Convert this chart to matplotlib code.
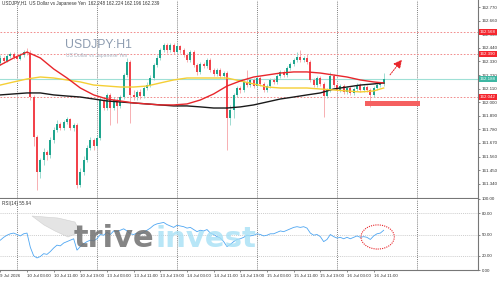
import matplotlib.pyplot as plt
import numpy as np
from matplotlib.patches import Rectangle, Ellipse, Polygon
import matplotlib.transforms as mtransforms

plt.rcParams['font.family'] = ['Liberation Sans', 'DejaVu Sans']

# USDJPY H1 candles, 9 Jul 19:00 .. 16 Jul 14:00
opens = [162.317, 162.358, 162.334, 162.374, 162.390, 162.366, 162.350, 162.382, 162.406, 162.398,
         162.042, 161.719, 161.436, 161.533, 161.597, 161.573, 161.694, 161.775, 161.824, 161.791,
         161.840, 161.864, 161.791, 161.816, 161.331, 161.436, 161.533, 161.630, 161.694, 161.646,
         161.711, 162.018, 161.953, 162.059, 161.953, 162.018, 161.970, 162.042, 162.220, 162.325,
         162.059, 162.042, 162.083, 162.050, 162.115, 162.139, 162.196, 162.301, 162.358, 162.423,
         162.463, 162.423, 162.463, 162.406, 162.455, 162.423, 162.382, 162.342, 162.406, 162.301,
         162.245, 162.309, 162.293, 162.342, 162.261, 162.228, 162.261, 162.212, 162.236, 161.873,
         161.937, 162.059, 162.115, 162.099, 162.164, 162.139, 162.180, 162.131, 162.196, 162.148,
         162.099, 162.131, 162.180, 162.164, 162.212, 162.245, 162.220, 162.277, 162.309, 162.342,
         162.366, 162.342, 162.358, 162.325, 162.180, 162.139, 162.196, 162.148, 162.050, 162.099,
         162.212, 162.139, 162.099, 162.131, 162.083, 162.115, 162.075, 162.107, 162.139, 162.099,
         162.123, 162.099, 162.059, 162.115, 162.139, 162.148]
closes = [162.358, 162.334, 162.374, 162.390, 162.366, 162.350, 162.382, 162.406, 162.398, 162.042,
          161.719, 161.436, 161.533, 161.597, 161.573, 161.694, 161.775, 161.824, 161.791, 161.840,
          161.864, 161.791, 161.816, 161.331, 161.436, 161.533, 161.630, 161.694, 161.646, 161.711,
          162.018, 161.953, 162.059, 161.953, 162.018, 161.970, 162.042, 162.220, 162.325, 162.059,
          162.042, 162.083, 162.050, 162.115, 162.139, 162.196, 162.301, 162.358, 162.423, 162.463,
          162.423, 162.463, 162.406, 162.455, 162.423, 162.382, 162.342, 162.406, 162.301, 162.245,
          162.309, 162.293, 162.342, 162.261, 162.228, 162.261, 162.212, 162.236, 161.873, 161.937,
          162.059, 162.115, 162.099, 162.164, 162.139, 162.180, 162.131, 162.196, 162.148, 162.099,
          162.131, 162.180, 162.164, 162.212, 162.245, 162.220, 162.277, 162.309, 162.342, 162.366,
          162.342, 162.358, 162.325, 162.180, 162.139, 162.196, 162.148, 162.050, 162.099, 162.212,
          162.139, 162.099, 162.131, 162.083, 162.115, 162.075, 162.107, 162.139, 162.099, 162.123,
          162.099, 162.059, 162.115, 162.139, 162.148, 162.188]
highs = [162.382, 162.374, 162.390, 162.406, 162.406, 162.382, 162.398, 162.423, 162.439, 162.423,
         162.059, 161.735, 161.549, 161.630, 161.614, 161.719, 161.800, 161.856, 161.840, 161.856,
         161.881, 161.873, 161.832, 161.832, 161.468, 161.565, 161.654, 161.719, 161.711, 161.735,
         162.042, 162.042, 162.075, 162.075, 162.042, 162.034, 162.059, 162.236, 162.358, 162.342,
         162.099, 162.099, 162.107, 162.131, 162.164, 162.220, 162.317, 162.382, 162.439, 162.479,
         162.479, 162.479, 162.479, 162.479, 162.463, 162.439, 162.398, 162.423, 162.423, 162.317,
         162.325, 162.325, 162.358, 162.358, 162.277, 162.277, 162.277, 162.253, 162.253, 161.978,
         162.075, 162.131, 162.131, 162.180, 162.261, 162.196, 162.196, 162.261, 162.212, 162.164,
         162.148, 162.196, 162.196, 162.228, 162.261, 162.261, 162.293, 162.325, 162.358, 162.406,
         162.423, 162.374, 162.390, 162.342, 162.196, 162.212, 162.212, 162.164, 162.115, 162.245,
         162.228, 162.156, 162.148, 162.148, 162.131, 162.131, 162.123, 162.156, 162.156, 162.139,
         162.139, 162.115, 162.131, 162.156, 162.164, 162.236]
lows = [162.301, 162.317, 162.325, 162.358, 162.350, 162.334, 162.342, 162.366, 162.382, 162.018,
        161.646, 161.290, 161.387, 161.492, 161.533, 161.549, 161.670, 161.759, 161.775, 161.775,
        161.824, 161.775, 161.767, 161.306, 161.314, 161.411, 161.516, 161.614, 161.614, 161.630,
        161.694, 161.937, 161.937, 161.816, 161.937, 161.832, 161.953, 162.026, 162.204, 161.832,
        162.018, 162.018, 162.026, 162.034, 162.099, 162.123, 162.180, 162.285, 162.342, 162.406,
        162.398, 162.406, 162.390, 162.390, 162.398, 162.366, 162.325, 162.325, 162.285, 162.220,
        162.228, 162.277, 162.277, 162.245, 162.212, 162.212, 162.196, 162.196, 161.614, 161.816,
        161.873, 162.042, 162.075, 162.083, 162.123, 162.123, 162.115, 162.115, 162.131, 162.083,
        162.083, 162.115, 162.148, 162.148, 162.196, 162.204, 162.204, 162.261, 162.293, 162.325,
        162.325, 162.325, 162.309, 162.164, 162.123, 162.123, 162.131, 161.881, 162.034, 162.083,
        162.123, 162.083, 162.083, 162.067, 162.067, 162.059, 162.059, 162.091, 162.083, 162.083,
        162.083, 161.962, 162.042, 162.099, 162.123, 162.131]

# moving averages read every 4 bars
ma_idx = [0, 4, 8, 12, 16, 20, 24, 28, 32, 36, 40, 44, 48, 52, 56, 60, 64, 68, 72, 76,
          80, 84, 88, 92, 96, 100, 104, 108, 112, 115]
ma_red = [162.301, 162.358, 162.406, 162.358, 162.269, 162.196, 162.115, 162.059, 162.026, 162.010,
          161.994, 161.986, 161.978, 161.978, 161.986, 162.018, 162.067, 162.131, 162.172, 162.204,
          162.220, 162.236, 162.245, 162.245, 162.236, 162.220, 162.204, 162.180, 162.164, 162.156]
ma_yellow = [162.139, 162.164, 162.188, 162.204, 162.196, 162.180, 162.164, 162.139, 162.131, 162.123,
             162.123, 162.131, 162.156, 162.180, 162.196, 162.196, 162.196, 162.196, 162.172, 162.148,
             162.123, 162.115, 162.115, 162.115, 162.107, 162.099, 162.091, 162.083, 162.091, 162.115]
ma_black = [162.059, 162.067, 162.075, 162.075, 162.059, 162.050, 162.042, 162.026, 162.010, 162.002,
            161.994, 161.986, 161.978, 161.970, 161.970, 161.962, 161.953, 161.953, 161.962, 161.978,
            162.002, 162.026, 162.042, 162.059, 162.075, 162.107, 162.123, 162.139, 162.148, 162.156]

rsi = [42, 46, 49, 51, 52, 50, 48, 51, 52, 32,
       20, 17, 19, 23, 22, 26, 31, 35, 34, 38,
       40, 42, 44, 28, 33, 37, 40, 42, 41, 44,
       50, 49, 53, 50, 55, 54, 56, 58, 55, 51,
       50, 52, 51, 53, 56, 59, 63, 65, 66, 67,
       64, 62, 60, 63, 62, 61, 59, 60, 57, 54,
       56, 55, 57, 52, 50, 47, 45, 40, 33, 36,
       40, 43, 44, 46, 49, 48, 49, 51, 50, 48,
       49, 51, 51, 53, 55, 54, 56, 58, 60, 61,
       60, 61, 59, 52, 49, 50, 47, 40, 43, 50,
       47, 45, 46, 44, 46, 44, 46, 48, 46, 47,
       46, 43, 48, 51, 52, 55.94]

levels = [162.568, 162.390, 162.042]
last_price = 162.188
price_ticks = [162.770, 162.660, 162.550, 162.440, 162.330, 162.220, 162.110, 162.000,
               161.890, 161.780, 161.670, 161.560, 161.450, 161.340]
rsi_ticks = [100, 80, 50, 20, 0]
time_labels = ['9 Jul 2026', '10 Jul 03:00', '10 Jul 11:00', '10 Jul 19:00', '13 Jul 03:00',
               '13 Jul 11:00', '13 Jul 19:00', '14 Jul 03:00', '14 Jul 11:00', '14 Jul 19:00',
               '15 Jul 03:00', '15 Jul 11:00', '15 Jul 19:00', '16 Jul 03:00', '16 Jul 11:00']
time_pos = list(range(0, 113, 8))
day_lines = [5, 29, 53, 77, 101, 125]

W, H = 500, 281
fig = plt.figure(figsize=(W / 100, H / 100), dpi=100)
ax = fig.add_axes([0, (H - 198) / H, 478 / W, 198 / H])
ax2 = fig.add_axes([0, (H - 270) / H, 478 / W, 71 / H], sharex=ax)

x = np.arange(len(opens))
o = np.array(opens); c = np.array(closes)
up = c >= o
bull, bear = '#1ea58e', '#f2434b'
ax.vlines(x[up], np.array(lows)[up], np.array(highs)[up], color='#8fd6ca', lw=0.6, zorder=2)
ax.vlines(x[~up], np.array(lows)[~up], np.array(highs)[~up], color='#f6a2a6', lw=0.6, zorder=2)
body_b = np.minimum(o, c)
body_h = np.maximum(np.abs(c - o), 0.004)
ax.bar(x[up], body_h[up], bottom=body_b[up], width=0.62, color=bull, lw=0, zorder=3)
ax.bar(x[~up], body_h[~up], bottom=body_b[~up], width=0.62, color=bear, lw=0, zorder=3)

ax.plot(ma_idx, ma_black, color='#1a1a1a', lw=1.0, zorder=4)
ax.plot(ma_idx, ma_yellow, color='#f5cf35', lw=1.0, zorder=4)
ax.plot(ma_idx, ma_red, color='#e8262b', lw=1.0, zorder=5)

for lv in levels:
    ax.axhline(lv, color='#f07a7a', lw=0.6, ls=(0, (2, 2)), zorder=1)
ax.axhline(last_price, color='#9fe0d6', lw=0.8, zorder=1)

for d in day_lines:
    ax.axvline(d, color='#555555', lw=0.5, ls=(0, (1.5, 1.5)), zorder=0)
    ax2.axvline(d, color='#555555', lw=0.5, ls=(0, (1.5, 1.5)), zorder=0)

ax.set_xlim(-0.1, 143.3)
ax.set_ylim(161.225, 162.827)
ax.yaxis.tick_right()
ax.set_yticks(price_ticks)
ax.set_yticklabels(['%.3f' % t for t in price_ticks])
ax.tick_params(axis='y', labelsize=3.2, length=1.5, width=0.4, pad=1, colors='#333333')
ax.tick_params(axis='x', bottom=False, labelbottom=False)
for s in ['left', 'top']:
    ax.spines[s].set_visible(False)
for s in ['right', 'bottom']:
    ax.spines[s].set_color('#777777')
    ax.spines[s].set_linewidth(0.8)

# price labels on axis
tr = mtransforms.blended_transform_factory(ax.transAxes, ax.transData)
for lv in levels:
    ax.text(1.004, lv, '%.3f' % lv, transform=tr, fontsize=3.2, color='white', va='center', ha='left',
            bbox=dict(boxstyle='square,pad=0.25', fc='#f5262e', ec='none'), clip_on=False, zorder=10)
ax.text(1.004, last_price, '%.3f' % last_price, transform=tr, fontsize=3.2, color='white', va='center',
        ha='left', bbox=dict(boxstyle='square,pad=0.25', fc='#3db7a3', ec='none'), clip_on=False, zorder=10)

# drawn objects
ax.add_patch(Rectangle((109.5, 161.970), 16.5, 0.040, color='#f56060', lw=0, zorder=6))
ax.annotate('', xy=(121, 162.362), xytext=(116.4, 162.204),
            arrowprops=dict(arrowstyle='-|>,head_length=0.5,head_width=0.25', color='#e8262b',
                            lw=0.7, ls=(0, (1.5, 1.2))), zorder=7)

# rsi panel
ax2.plot(x, rsi, color='#4ea6f2', lw=0.6, zorder=4)
for lv in [80, 50, 20]:
    ax2.axhline(lv, color='#bbbbbb', lw=0.5, ls=(0, (1.5, 1.5)), zorder=0)
ax2.add_patch(Ellipse((113.2, 46.5), 10, 34, fill=False, ec='#e8262b', lw=0.8, ls=(0, (1, 1)), zorder=6))
ax2.set_ylim(0, 100)
ax2.yaxis.tick_right()
ax2.set_yticks(rsi_ticks)
ax2.set_yticklabels(['%.2f' % t for t in rsi_ticks])
ax2.tick_params(axis='y', labelsize=3.2, length=1.5, width=0.4, pad=1, colors='#333333')
ax2.set_xticks(time_pos)
ax2.set_xticklabels(time_labels, ha='left')
ax2.tick_params(axis='x', labelsize=3.2, length=1.5, width=0.4, pad=1.5, colors='#333333')
for s in ['left', 'top']:
    ax2.spines[s].set_visible(False)
for s in ['right', 'bottom']:
    ax2.spines[s].set_color('#777777')
    ax2.spines[s].set_linewidth(0.8)

# texts
def fx(px):
    return px / W

def fy(py):
    return 1 - py / H

fig.text(fx(2), fy(4), 'USDJPY,H1  US Dollar vs Japanese Yen  162.248 162.224 162.196 162.239',
         fontsize=3.3, color='#333333', va='center', ha='left')
fig.text(fx(65), fy(45), 'USDJPY:H1', fontsize=8.8, color='#8d9cb0', va='center', ha='left')
fig.text(fx(66), fy(56), 'US Dollar vs Japanese Yen', fontsize=3.6, color='#a9b4c2', va='center', ha='left')
fig.text(fx(2), fy(203), 'RSI(14) 55.94', fontsize=3.3, color='#333333', va='center', ha='left')

# trive invest watermark
wing = Polygon([(fx(32), fy(216)), (fx(58), fy(218)), (fx(75), fy(222)), (fx(80), fy(232)),
                (fx(68), fy(237)), (fx(55), fy(231)), (fx(44), fy(225))],
               closed=True, transform=fig.transFigure, fc='#d9d9d9', ec='#c4c4c4', lw=0.4, alpha=0.7)
fig.patches.append(wing)
fig.text(fx(74), fy(247), 'trive', fontsize=22, fontweight='bold', color='#707070', alpha=0.85,
         va='baseline', ha='left', family='DejaVu Sans')
fig.text(fx(156), fy(247), 'invest', fontsize=21, fontweight='bold', color='#a6e0f5', alpha=0.8,
         va='baseline', ha='left', family='DejaVu Sans')

fig.savefig('out.png', dpi=100)
